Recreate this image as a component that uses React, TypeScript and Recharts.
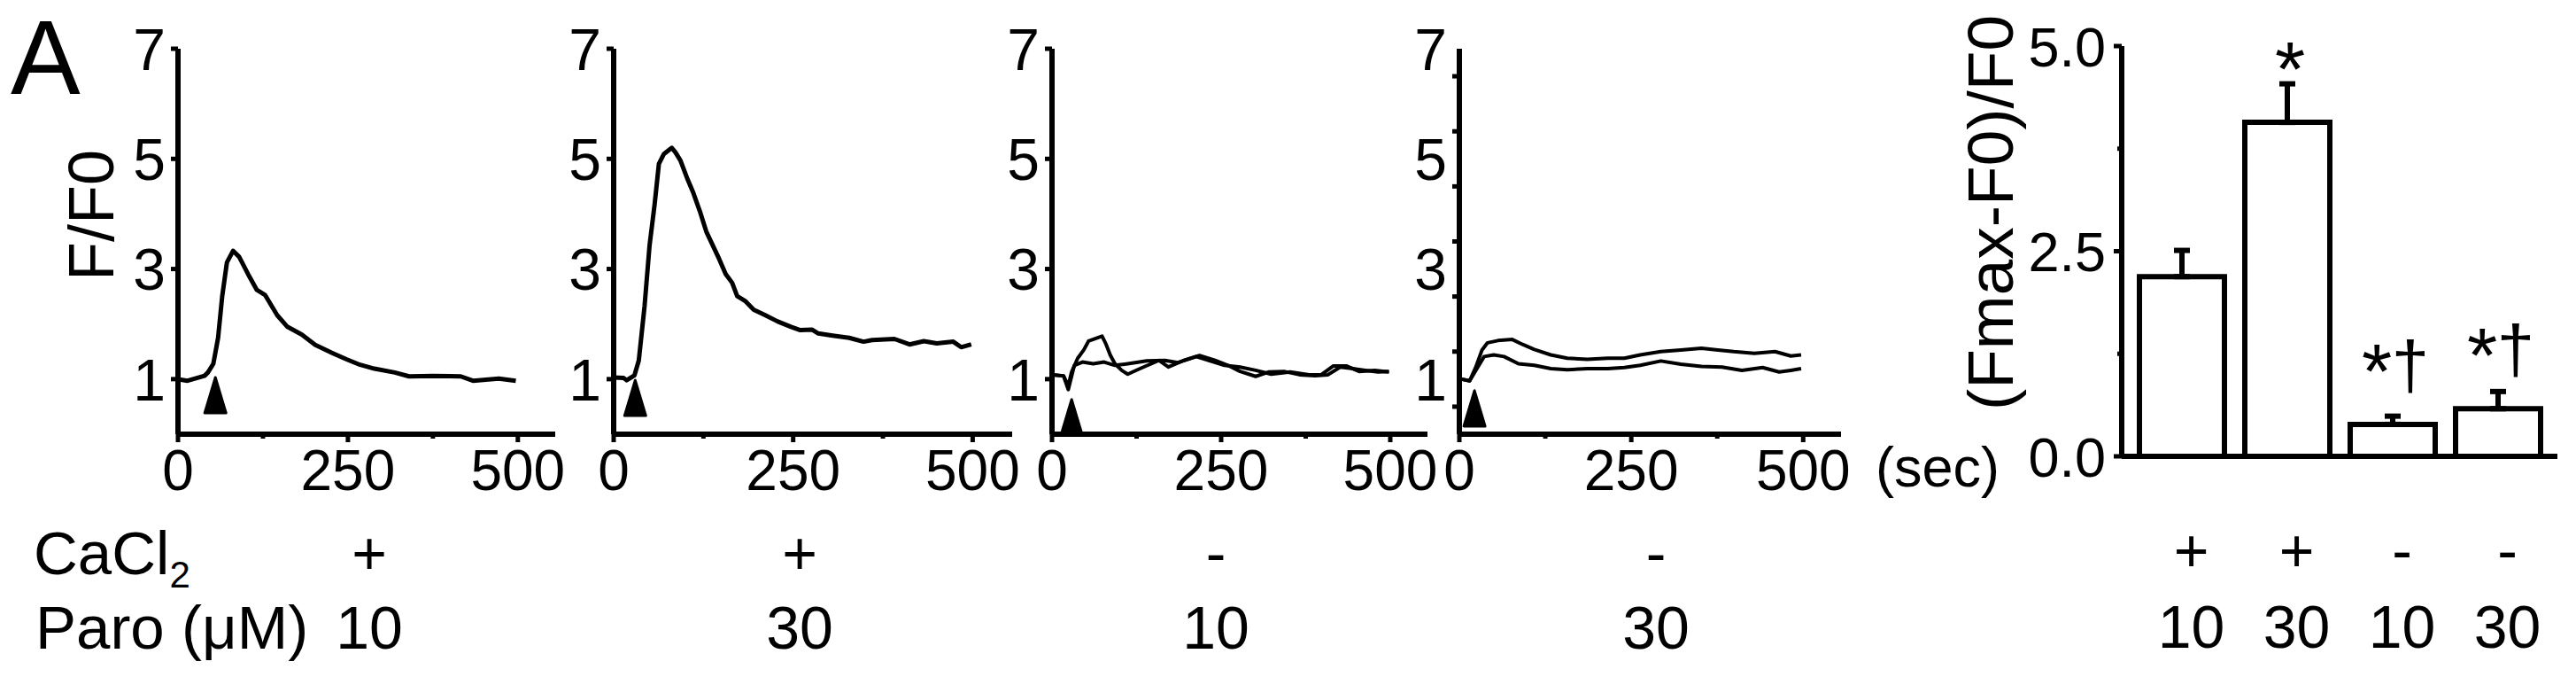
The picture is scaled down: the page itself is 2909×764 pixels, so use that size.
import React from 'react';
import { ComposedChart, Line, XAxis, YAxis, ReferenceDot, BarChart, Bar, ErrorBar, LabelList } from 'recharts';

const FONT = '"Liberation Sans", Arial, Helvetica, sans-serif';
const INK = '#000';

// ---------------- data ----------------
// Panel 1: CaCl2 +, Paro 10 uM
const p1Time = [0, 14, 39, 44, 52, 59, 65, 72, 81, 90, 103, 116, 128, 146, 161, 182, 202, 228, 248, 268, 289, 319, 340, 375, 416, 434, 472, 497];
const p1Ratio = [1.0, 0.97, 1.06, 1.12, 1.28, 1.75, 2.5, 3.12, 3.33, 3.22, 2.91, 2.62, 2.53, 2.16, 1.95, 1.81, 1.62, 1.47, 1.36, 1.26, 1.19, 1.12, 1.05, 1.06, 1.05, 0.97, 1.01, 0.97];

// Panel 2: CaCl2 +, Paro 30 uM
const p2Time = [0, 14, 18, 29, 35, 43, 50, 57, 63, 70, 81, 86, 93, 102, 111, 120, 129, 138, 147, 156, 165, 172, 183, 195, 210, 228, 247, 260, 276, 285, 305, 328, 348, 360, 391, 412, 432, 450, 473, 484, 498];
const p2Ratio = [1.03, 1.02, 0.98, 1.07, 1.34, 2.32, 3.43, 4.17, 4.91, 5.09, 5.2, 5.12, 4.97, 4.66, 4.38, 4.05, 3.68, 3.43, 3.18, 2.91, 2.75, 2.51, 2.42, 2.26, 2.17, 2.05, 1.95, 1.89, 1.9, 1.83, 1.79, 1.75, 1.68, 1.71, 1.73, 1.63, 1.69, 1.65, 1.68, 1.58, 1.63];

// Panel 3: CaCl2 -, Paro 10 uM (two cells)
const p3aTime = [0, 17, 24, 29, 38, 47, 54, 63, 74, 80, 86, 93, 103, 112, 130, 158, 172, 195, 218, 241, 260, 278, 301, 320, 343, 366, 389, 408, 426, 440, 463, 482, 498];
const p3aRatio = [1.08, 1.06, 0.88, 1.13, 1.38, 1.53, 1.69, 1.73, 1.78, 1.63, 1.44, 1.28, 1.16, 1.09, 1.19, 1.34, 1.22, 1.34, 1.43, 1.34, 1.25, 1.14, 1.05, 1.13, 1.14, 1.08, 1.06, 1.08, 1.22, 1.2, 1.16, 1.13, 1.14];
const p3bTime = [0, 17, 24, 33, 45, 61, 77, 93, 112, 140, 167, 186, 213, 232, 255, 278, 301, 324, 352, 380, 398, 416, 435, 454, 477, 498];
const p3bRatio = [1.08, 1.06, 0.81, 1.25, 1.31, 1.28, 1.31, 1.25, 1.28, 1.33, 1.34, 1.3, 1.41, 1.34, 1.25, 1.22, 1.16, 1.09, 1.13, 1.08, 1.08, 1.24, 1.24, 1.14, 1.16, 1.13];

// Panel 4: CaCl2 -, Paro 30 uM (two cells)
const p4aTime = [3, 15, 24, 33, 41, 56, 77, 92, 109, 133, 157, 186, 216, 240, 263, 293, 322, 352, 376, 399, 429, 459, 482, 497];
const p4aRatio = [1.0, 0.97, 1.22, 1.53, 1.66, 1.7, 1.72, 1.63, 1.54, 1.44, 1.38, 1.36, 1.38, 1.38, 1.44, 1.5, 1.53, 1.56, 1.53, 1.5, 1.47, 1.5, 1.42, 1.44];
const p4bTime = [3, 15, 24, 36, 50, 65, 86, 109, 133, 157, 186, 216, 240, 263, 293, 322, 352, 382, 411, 441, 465, 482, 497];
const p4bRatio = [1.0, 0.97, 1.16, 1.41, 1.44, 1.41, 1.28, 1.25, 1.19, 1.17, 1.19, 1.19, 1.21, 1.25, 1.33, 1.27, 1.23, 1.22, 1.16, 1.21, 1.13, 1.16, 1.19];

// stimulus arrowheads (time, F/F0 level of the tip)
const arrowTimes = [55, 30, 29, 22];
const arrowLevels = [1.03, 0.98, 0.63, 0.79];

// tick sets
const traceYLabels = [1, 3, 5, 7];
const halfYTicks = [0.5, 1.5, 2.5, 3.5, 4.5, 5.5, 6.5];
const timeMajorTicks = [0, 250, 500];
const timeMinorTicks = [125, 375];

// row labels under traces
const panelCaCl2 = ['+', '+', '-', '-'];
const panelParo = ['10', '30', '10', '30'];

// bar chart
const barCaCl2 = ['+', '+', '-', '-'];
const barParo = ['10', '30', '10', '30'];
const barMeans = [2.19, 4.07, 0.39, 0.58];
const barSems = [0.32, 0.47, 0.1, 0.21];
const barMarks = ['', '*', '*†', '*†'];
const barYTicks = [0, 1.25, 2.5, 3.75, 5];
const barYLabelTicks = [0, 2.5, 5];

// ---------------- helpers ----------------
const toPts = (t: number[], v: number[]) => t.map((x, i) => ({ t: x, v: v[i] }));

const traces = [
  [toPts(p1Time, p1Ratio)],
  [toPts(p2Time, p2Ratio)],
  [toPts(p3aTime, p3aRatio), toPts(p3bTime, p3bRatio)],
  [toPts(p4aTime, p4aRatio), toPts(p4bTime, p4bRatio)],
];

// layout
const Y7 = 55;
const Y0 = 490;
const CH = 600;
const XMAX = 555;
const YW = 130;
const RIGHT = 12;
const XH = 80;
const TS = 8;
const TM = 8;
const TICK_FONT = 64;
const PANELS = [
  { axisX: 201, px500: 384, rowX: 417, sw: 5 },
  { axisX: 693, px500: 405, rowX: 903, sw: 5 },
  { axisX: 1188, px500: 382, rowX: 1373, sw: 4 },
  { axisX: 1648, px500: 388, rowX: 1870, sw: 4 },
];
const axisStyle = { stroke: INK, strokeWidth: 6 };

const renderYTick = (props: any, lines: number[], labels: number[]) => {
  const { x, y, payload } = props;
  const ax = x + TM + TS;
  const v = payload.value;
  return (
    <g>
      {lines.includes(v) && <line x1={ax} x2={ax - 8} y1={y} y2={y} stroke={INK} strokeWidth={5} />}
      {labels.includes(v) && (
        <text x={ax - 14} y={y} dy="0.36em" textAnchor="end" fontSize={TICK_FONT + 2} fontFamily={FONT} fill={INK}>
          {v}
        </text>
      )}
    </g>
  );
};

const renderXTick = (props: any) => {
  const { x, y, payload } = props;
  const ay = y - TM - TS;
  const major = timeMajorTicks.includes(payload.value);
  return (
    <g>
      <line x1={x} x2={x} y1={ay} y2={ay + (major ? 9 : 5)} stroke={INK} strokeWidth={5} />
      {major && (
        <text x={x} y={ay + 63} textAnchor="middle" fontSize={TICK_FONT} fontFamily={FONT} fill={INK}>
          {payload.value}
        </text>
      )}
    </g>
  );
};

const Arrowhead = (props: any) => {
  const { cx, cy } = props;
  return (
    <path
      d={`M${cx},${cy} L${cx - 12},${cy + 40} L${cx + 12},${cy + 40} Z`}
      fill={INK}
      stroke={INK}
      strokeWidth={3}
      strokeLinejoin="round"
    />
  );
};

function TracePanel({ idx }: { idx: number }) {
  const p = PANELS[idx];
  const plotW = Math.round((p.px500 * XMAX) / 500);
  const half = idx === 3;
  const yLines = half ? halfYTicks : traceYLabels;
  const yAll = half ? [...halfYTicks, ...traceYLabels].sort((a, b) => a - b) : traceYLabels;
  return (
    <div style={{ position: 'absolute', left: p.axisX - YW, top: 0 }}>
      <ComposedChart
        width={YW + plotW + RIGHT}
        height={CH}
        margin={{ top: Y7, right: RIGHT, bottom: CH - Y0 - XH, left: 0 }}
      >
        <XAxis
          type="number"
          dataKey="t"
          domain={[0, XMAX]}
          allowDataOverflow
          ticks={[...timeMajorTicks, ...timeMinorTicks].sort((a, b) => a - b)}
          interval={0}
          tickSize={TS}
          tickMargin={TM}
          tickLine={false}
          axisLine={axisStyle}
          height={XH}
          tick={renderXTick}
        />
        <YAxis
          type="number"
          domain={[0, 7]}
          allowDataOverflow
          ticks={yAll}
          interval={0}
          width={YW}
          tickSize={TS}
          tickMargin={TM}
          tickLine={false}
          axisLine={axisStyle}
          tick={(tp: any) => renderYTick(tp, yLines, traceYLabels)}
        />
        {traces[idx].map((s, i) => (
          <Line
            key={i}
            data={s}
            dataKey="v"
            type="linear"
            stroke={INK}
            strokeWidth={p.sw}
            strokeLinejoin="round"
            dot={false}
            activeDot={false}
            isAnimationActive={false}
          />
        ))}
        <ReferenceDot x={arrowTimes[idx]} y={arrowLevels[idx]} r={1} ifOverflow="visible" shape={Arrowhead} />
      </ComposedChart>
    </div>
  );
}

// bar chart layout
const B_AXIS_X = 2396;
const B_TOP = 52;
const B_ZERO = 515;
const B_PLOT_W = 492;
const B_YW = 130;
const B_RIGHT = 15;
const B_H = 764;
const B_XH = 240;

const barData = barMeans.map((m, i) => ({
  group: `${barCaCl2[i]} ${barParo[i]}`,
  mean: m,
  err: [0, barSems[i]],
  mark: barMarks[i],
}));

const renderBarXTick = (props: any) => {
  const { x, y, index } = props;
  return (
    <g>
      <text x={x + 11} y={y + 130} textAnchor="middle" fontSize={68} fontFamily={FONT} fill={INK}>
        {barCaCl2[index]}
      </text>
      <text x={x + 11} y={y + 216} textAnchor="middle" fontSize={68} fontFamily={FONT} fill={INK}>
        {barParo[index]}
      </text>
    </g>
  );
};

const renderBarYTick = (props: any) => {
  const { x, y, payload } = props;
  const ax = x + TM + TS;
  const v = payload.value;
  const major = barYLabelTicks.includes(v);
  return (
    <g>
      <line x1={ax} x2={ax - (major ? 9 : 5)} y1={y} y2={y} stroke={INK} strokeWidth={5} />
      {major && (
        <text x={ax - 18} y={y} dy="0.36em" textAnchor="end" fontSize={63} fontFamily={FONT} fill={INK}>
          {v.toFixed(1)}
        </text>
      )}
    </g>
  );
};

const renderMark = (props: any) => {
  const { x, y, width, value } = props;
  if (!value) return null;
  const cx = Number(x) + Number(width) / 2;
  const top = Number(y);
  const hasDagger = String(value).includes('†');
  return (
    <g>
      <text x={hasDagger ? cx - 18 : cx + 3} y={top - 30} textAnchor="middle" fontSize={88} fontFamily={FONT} fill={INK}>
        *
      </text>
      {hasDagger && (
        <text x={cx + 20} y={top - 41} textAnchor="middle" fontSize={76} fontFamily={FONT} fill={INK}>
          †
        </text>
      )}
    </g>
  );
};

function BarPanel() {
  return (
    <div style={{ position: 'absolute', left: B_AXIS_X - B_YW, top: 0 }}>
      <BarChart
        width={B_YW + B_PLOT_W + B_RIGHT}
        height={B_H}
        data={barData}
        margin={{ top: B_TOP, right: B_RIGHT, bottom: B_H - B_ZERO - B_XH, left: 0 }}
      >
        <XAxis
          dataKey="group"
          type="category"
          padding={{ left: 8, right: 8 }}
          interval={0}
          tickSize={0}
          tickMargin={0}
          tickLine={false}
          axisLine={axisStyle}
          height={B_XH}
          tick={renderBarXTick}
        />
        <YAxis
          type="number"
          domain={[0, 5]}
          allowDataOverflow
          ticks={barYTicks}
          interval={0}
          width={B_YW}
          tickSize={TS}
          tickMargin={TM}
          tickLine={false}
          axisLine={axisStyle}
          tick={renderBarYTick}
        />
        <Bar dataKey="mean" fill="#fff" stroke={INK} strokeWidth={6} barSize={96} isAnimationActive={false}>
          <ErrorBar dataKey="err" direction="y" width={9} stroke={INK} strokeWidth={6} />
          <LabelList dataKey="mark" content={renderMark} />
        </Bar>
      </BarChart>
    </div>
  );
}

function Annotations() {
  return (
    <svg width={2909} height={764} style={{ position: 'absolute', left: 0, top: 0 }} fontFamily={FONT} fill={INK}>
      <text x={12} y={106} fontSize={118}>A</text>
      <text transform="translate(128,243) rotate(-90)" textAnchor="middle" fontSize={72}>F/F0</text>
      <text transform="translate(2273,240) rotate(-90)" textAnchor="middle" fontSize={73}>(Fmax-F0)/F0</text>
      <text x={2118} y={549} fontSize={63}>(sec)</text>
      <text x={38} y={648} fontSize={69}>
        CaCl<tspan fontSize={42} dy={15}>2</tspan>
      </text>
      <text x={40} y={732} fontSize={69}>Paro (μM)</text>
      {PANELS.map((p, i) => (
        <g key={i}>
          <text x={p.rowX} y={648} textAnchor="middle" fontSize={68}>{panelCaCl2[i]}</text>
          <text x={p.rowX} y={732} textAnchor="middle" fontSize={68}>{panelParo[i]}</text>
        </g>
      ))}
    </svg>
  );
}

export default function App() {
  return (
    <div style={{ position: 'absolute', left: 0, top: 0, width: 2909, height: 764, background: '#fff', fontFamily: FONT }}>
      <Annotations />
      {[0, 1, 2, 3].map((i) => (
        <TracePanel key={i} idx={i} />
      ))}
      <BarPanel />
    </div>
  );
}
